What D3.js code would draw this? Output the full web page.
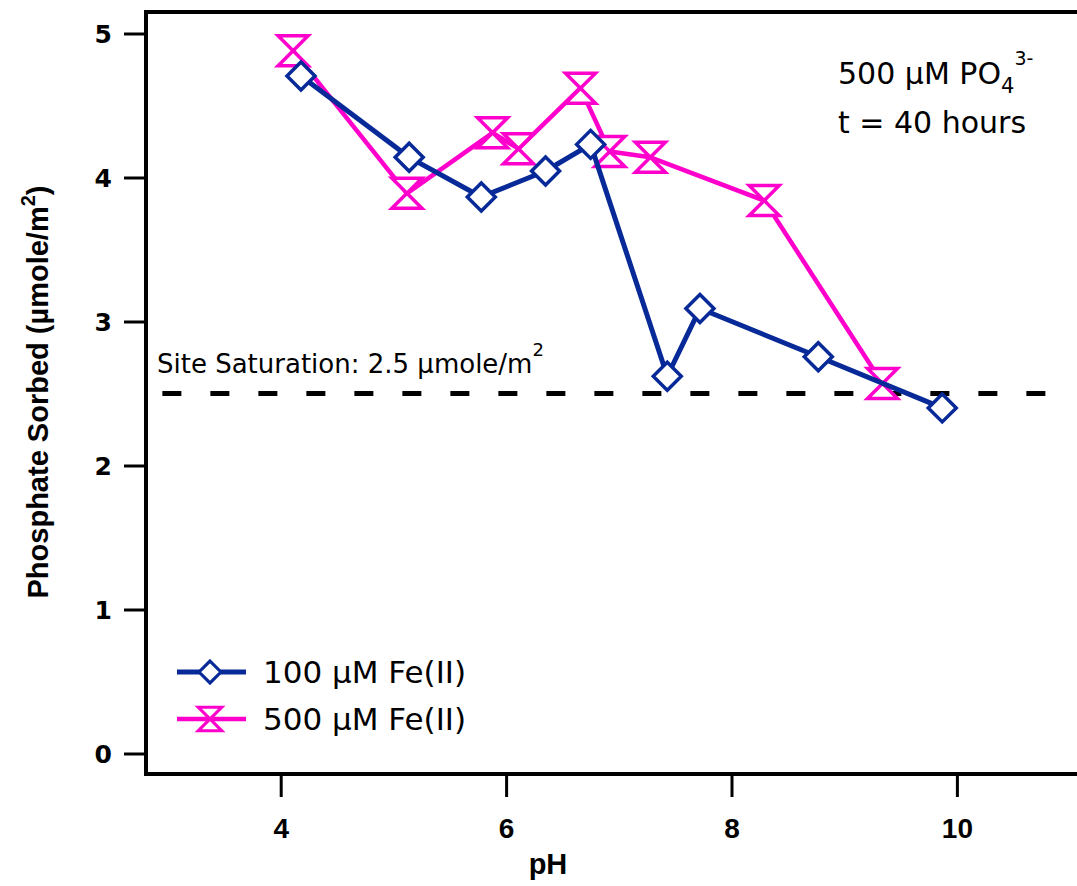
<!DOCTYPE html>
<html>
<head>
<meta charset="utf-8">
<script src="https://cdn.jsdelivr.net/npm/d3@7"></script>
<style>
  html, body { margin: 0; padding: 0; background: #fff; }
  svg { display: block; }
</style>
</head>
<body>
<svg id="chart" width="1077" height="886"></svg>
<script>
// ---- data ----
const pH100 = [4.18, 5.14, 5.78, 6.35, 6.75, 7.43, 7.72, 8.77, 9.87];
const sorbed100 = [4.705, 4.14, 3.865, 4.045, 4.23, 2.62, 3.09, 2.755, 2.40];
const pH500 = [4.11, 5.12, 5.88, 6.11, 6.66, 6.92, 7.28, 8.29, 9.34];
const sorbed500 = [4.88, 3.89, 4.31, 4.20, 4.62, 4.18, 4.14, 3.84, 2.57];
const seriesNames = ["100 µM Fe(II)", "500 µM Fe(II)"];
const xTicks = [4, 6, 8, 10];
const yTicks = [0, 1, 2, 3, 4, 5];
const saturation = 2.5;
const saturationRange = [2.95, 10.9];

const blue = "#082a98";
const pink = "#ff00cc";

const svg = d3.select("#chart");
const frameL = 146, frameR = 1077, frameT = 12, frameB = 774;

const x = d3.scaleLinear().domain([4, 10]).range([280.7, 956.9]);
const y = d3.scaleLinear().domain([0, 5]).range([753.5, 33.5]);

// frame (left, top, bottom)
svg.append("path")
  .attr("d", `M${frameR},${frameT} H${frameL} V${frameB} H${frameR}`)
  .attr("fill", "none").attr("stroke", "#000").attr("stroke-width", 4);

// y axis
const gy = svg.append("g").attr("transform", `translate(${frameL},0)`)
  .call(d3.axisLeft(y).tickValues(yTicks).tickSize(22).tickPadding(12).tickFormat(d3.format("d")));
gy.select(".domain").remove();
gy.selectAll(".tick line").attr("stroke", "#000").attr("stroke-width", 3);
gy.selectAll(".tick text")
  .attr("font-family", "'DejaVu Sans', sans-serif").attr("font-weight", "bold")
  .attr("font-size", 25).attr("fill", "#000").attr("dy", "0.36em");

// x axis
const gx = svg.append("g").attr("transform", `translate(0,${frameB})`)
  .call(d3.axisBottom(x).tickValues(xTicks).tickSize(23).tickFormat(d3.format("d")));
gx.select(".domain").remove();
gx.selectAll(".tick line").attr("stroke", "#000").attr("stroke-width", 3);
gx.selectAll(".tick text")
  .attr("font-family", "'Liberation Sans', Arial, sans-serif").attr("font-weight", "bold")
  .attr("font-size", 28).attr("fill", "#000").attr("y", 64).attr("dy", 0);

// axis titles
svg.append("text").attr("x", 548).attr("y", 874).attr("text-anchor", "middle")
  .attr("font-family", "'Liberation Sans', sans-serif")
  .attr("font-weight", "bold").attr("font-size", 29).text("pH");

const yt = svg.append("text").attr("transform", "translate(48,392) rotate(-90)")
  .attr("text-anchor", "middle")
  .attr("font-family", "'Liberation Sans', sans-serif")
  .attr("font-weight", "bold").attr("font-size", 29);
yt.append("tspan").text("Phosphate Sorbed (µmole/m");
yt.append("tspan").attr("dy", -13).attr("font-size", 20).text("2");
yt.append("tspan").attr("dy", 13).text(")");

// saturation line
svg.append("line")
  .attr("x1", x(saturationRange[0])).attr("x2", x(saturationRange[1]))
  .attr("y1", y(saturation)).attr("y2", y(saturation))
  .attr("stroke", "#000").attr("stroke-width", 5).attr("stroke-dasharray", "19,29");

const st = svg.append("text").attr("x", 157).attr("y", 373)
  .attr("font-family", "'DejaVu Sans', sans-serif").attr("font-size", 26).attr("fill", "#000");
st.append("tspan").text("Site Saturation: 2.5 µmole/m");
st.append("tspan").attr("dy", -17).attr("font-size", 18).text("2");

// annotation
const an = svg.append("text").attr("x", 838).attr("y", 84)
  .attr("font-family", "'DejaVu Sans', sans-serif").attr("font-size", 30).attr("fill", "#000");
an.append("tspan").text("500 µM PO");
an.append("tspan").attr("dy", 9).attr("font-size", 21).text("4");
an.append("tspan").attr("dy", -28).attr("font-size", 19).text("3-");
svg.append("text").attr("x", 838).attr("y", 133)
  .attr("font-family", "'DejaVu Sans', sans-serif").attr("font-size", 30).attr("fill", "#000")
  .text("t = 40 hours");

// markers
const diamond = "M0,-14 L14,0 L0,14 L-14,0 Z";
const hourglass = "M-15,-15 L15,-15 L-15,15 L15,15 Z";

const line = d3.line().x(d => x(d[0])).y(d => y(d[1]));
const d100 = pH100.map((v, i) => [v, sorbed100[i]]);
const d500 = pH500.map((v, i) => [v, sorbed500[i]]);

function drawSeries(data, color, width, shape) {
  svg.append("path").datum(data).attr("d", line)
    .attr("fill", "none").attr("stroke", color).attr("stroke-width", width)
    .attr("stroke-linejoin", "round");
  svg.append("g").selectAll("path").data(data).join("path")
    .attr("transform", d => `translate(${x(d[0])},${y(d[1])})`)
    .attr("d", shape).attr("fill", "#fff").attr("stroke", color).attr("stroke-width", 3.5)
    .attr("stroke-linejoin", "miter");
}
drawSeries(d500, pink, 4.5, hourglass);
drawSeries(d100, blue, 5, diamond);

// legend
const legend = [
  {name: seriesNames[0], color: blue, shape: diamond, yy: 672, w: 5},
  {name: seriesNames[1], color: pink, shape: hourglass, yy: 719, w: 4.5}
];
legend.forEach(l => {
  svg.append("line").attr("x1", 177).attr("x2", 246).attr("y1", l.yy).attr("y2", l.yy)
    .attr("stroke", l.color).attr("stroke-width", l.w);
  svg.append("path").attr("transform", `translate(210,${l.yy}) scale(0.78)`)
    .attr("d", l.shape).attr("fill", "#fff").attr("stroke", l.color).attr("stroke-width", 4);
  svg.append("text").attr("x", 263).attr("y", l.yy + 11)
    .attr("font-family", "'DejaVu Sans', sans-serif").attr("font-size", 31).attr("fill", "#000")
    .text(l.name);
});
</script>
</body>
</html>
